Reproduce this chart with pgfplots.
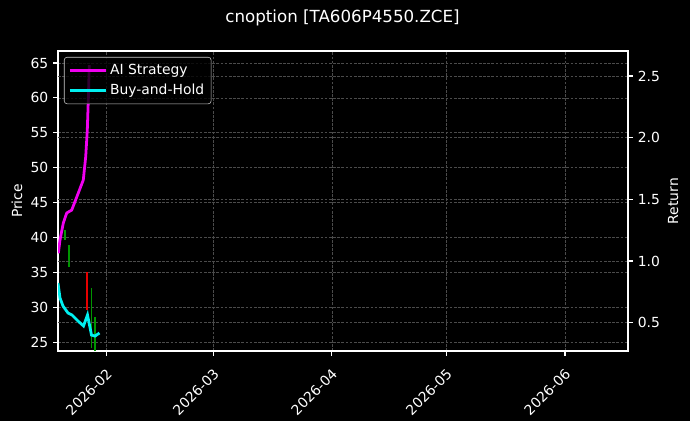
\documentclass[border=0pt]{standalone}
\usepackage{fontspec}
\setmainfont{DejaVu Sans}
\usepackage{pgfplots}
\pgfplotsset{compat=1.18}
\definecolor{gridc}{RGB}{75,75,75}
\definecolor{aimag}{RGB}{240,0,240}
\definecolor{bhcyan}{RGB}{0,240,240}
\definecolor{candG}{RGB}{0,150,0}
\definecolor{candR}{RGB}{230,0,0}
\definecolor{legc}{RGB}{200,200,200}
\pgfplotsset{
  common/.style={
    at={(41.76pt,50.4pt)}, anchor=south west,
    width=410.4pt, height=216pt, scale only axis,
    xmin=19.3, xmax=168.5,
    axis line style={white, line width=0.8pt},
    tick style={white, line width=0.8pt, major tick length=3.5pt},
    tick align=outside,
    tick label style={white, font=\fontsize{10}{12}\selectfont},
    /pgf/number format/assume math mode=true,
    major grid style={gridc, line width=0.5pt, dash pattern=on 2pt off 1pt},
  }
}
\begin{document}
\begin{tikzpicture}[x=1pt,y=1pt]
\fill[black] (0,0) rectangle (496.8,303.12);
\path[use as bounding box] (0,0) rectangle (496.8,303.12);
\begin{axis}[common,
  ymin=23.74, ymax=66.72,
  xtick={32,60,91,121,152},
  xticklabels={2026-02,2026-03,2026-04,2026-05,2026-06},
  xticklabel style={rotate=45, anchor=north east, xshift=-3pt, yshift=-2pt},
  ytick={25,30,35,40,45,50,55,60,65},
  xtick pos=bottom, ytick pos=left,
  xmajorgrids, ymajorgrids,
]
\addplot[candG, line width=1.2pt, forget plot] coordinates {(21.13,39.64) (21.13,41.08)};
\addplot[candG, line width=1.2pt, forget plot] coordinates {(22.18,35.77) (22.18,38.93)};
\addplot[candR, line width=1.6pt, forget plot] coordinates {(26.97,29.61) (26.97,35.10)};
\addplot[candG, line width=1.2pt, forget plot] coordinates {(28.07,24.17) (28.07,32.77)};
\addplot[candG, line width=1.2pt, forget plot] coordinates {(29.06,23.74) (29.06,28.61)};
\end{axis}
\begin{axis}[common,
  ymin=0.270, ymax=2.703,
  axis x line=none, axis y line*=right,
  ytick={0.5,1.0,1.5,2.0,2.5},
  yticklabel style={/pgf/number format/.cd, fixed, fixed zerofill, precision=1},
  ymajorgrids,
  legend style={at={(0,1)}, anchor=north west, xshift=4.3pt, yshift=-4.3pt,
    fill=black, fill opacity=0.8, text opacity=1, draw=legc, rounded corners=2pt,
    text=white, font=\fontsize{10}{12}\selectfont, row sep=1.5pt, inner sep=3pt},
  legend cell align=left,
  legend image code/.code={\draw[#1] (0pt,0pt) -- (21.6pt,0pt); \path (0pt,0pt) -- (26pt,0pt);},
]
\addplot[aimag, line width=2pt] coordinates {
(19.38,1.062) (19.82,1.170) (20.69,1.308) (21.58,1.389) (22.89,1.413)
(24.61,1.551) (25.92,1.657) (26.55,1.845) (26.97,2.062) (27.23,2.305) (27.49,2.589)};
\addlegendentry{AI Strategy}
\addplot[bhcyan, line width=2pt] coordinates {
(19.30,0.821) (19.82,0.700) (20.61,0.635) (21.92,0.578) (22.97,0.562)
(24.54,0.513) (25.98,0.473) (27.02,0.562) (28.07,0.399) (28.99,0.391) (30.16,0.416)};
\addlegendentry{Buy-and-Hold}
\end{axis}
\node[white, font=\fontsize{12}{14}\selectfont] at (246.6,290.2) {cnoption [TA606P4550.ZCE]};
\node[white, rotate=90, font=\fontsize{10}{12}\selectfont] at (12.2,158.4) {Price};
\node[white, rotate=90, font=\fontsize{10}{12}\selectfont] at (484.6,158.4) {Return};
\end{tikzpicture}
\end{document}
